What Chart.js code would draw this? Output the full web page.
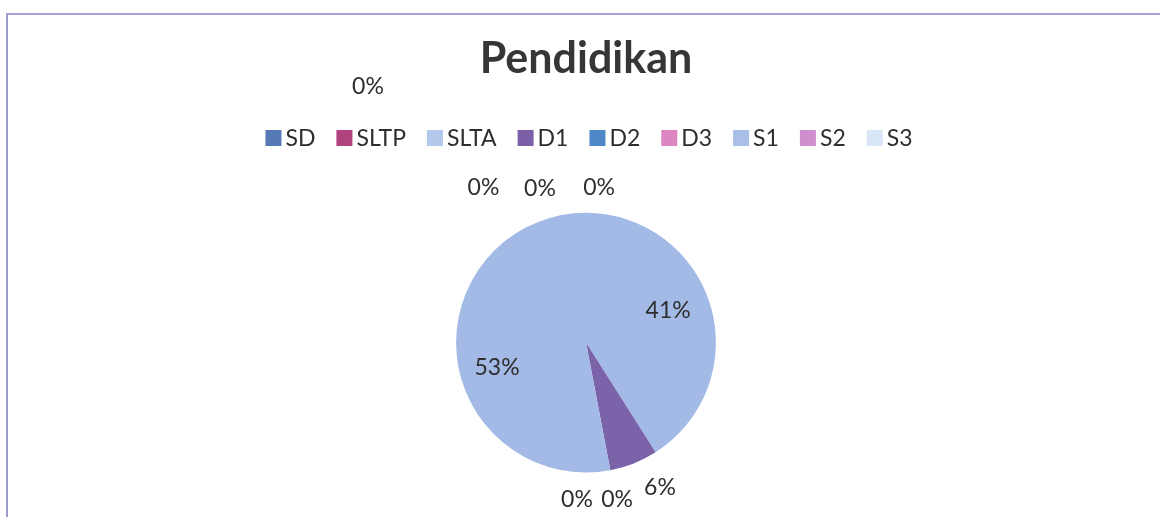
<!DOCTYPE html>
<html>
<head>
<meta charset="utf-8">
<script src="https://cdn.jsdelivr.net/npm/chart.js@4.4.1/dist/chart.umd.min.js"></script>
<style>
  html, body { margin: 0; padding: 0; background: #ffffff; }
  body { width: 1160px; height: 517px; position: relative; overflow: hidden; }
  #frame { position: absolute; left: 6px; top: 13px; width: 1200px; height: 600px;
           border-top: 2px solid #a3a3d6; border-left: 2px solid #9a9acc; box-sizing: border-box; }
  #wrap { position: absolute; left: 0; top: 0; width: 1160px; height: 517px; }
</style>
</head>
<body>
<div id="frame"></div>
<div id="wrap"><canvas id="c" width="1160" height="517"></canvas></div>
<script>
// ---- data ----
const chartTitle = "Pendidikan";
const categories = ["SD", "SLTP", "SLTA", "D1", "D2", "D3", "S1", "S2", "S3"];
const percentValues = [0, 0, 41, 6, 0, 0, 53, 0, 0];
const sliceColors = ["#5479b5", "#b0427d", "#a3bae6", "#7b63aa", "#4f88c6", "#dd86c2", "#a3bae6", "#cf8fcf", "#d8e6f8"];
const legendColors = ["#5479b5", "#b0427d", "#b3c8ea", "#7b60a8", "#4f88c6", "#dd86c2", "#a9bfe8", "#cf8fcf", "#d8e6f8"];

// label placement (angle in degrees clockwise from top, distance as a fraction of pie radius)
const labelPlacement = {
  SD:   [4.8, 1.20],
  SLTP: [319.6, 2.59],
  SLTA: [68.4, 0.68],
  D1:   [152.9, 1.25],
  D2:   [168.8, 1.23],
  D3:   [183.3, 1.21],
  S1:   [254.6, 0.71],
  S2:   [326.5, 1.43],
  S3:   [343.4, 1.24]
};

const FONT = "Lato, 'Open Sans', sans-serif";

const pieLabels = {
  id: 'pieLabels',
  afterDatasetsDraw(chart) {
    const ctx = chart.ctx;
    const meta = chart.getDatasetMeta(0);
    const data = chart.data.datasets[0].data;
    const total = data.reduce((a, b) => a + b, 0);
    ctx.save();
    ctx.font = "23px " + FONT;
    ctx.fillStyle = "#2e2e2e";
    ctx.textAlign = "center";
    ctx.textBaseline = "middle";
    meta.data.forEach((arc, i) => {
      const p = arc.getProps(['x', 'y', 'outerRadius'], true);
      const pl = labelPlacement[chart.data.labels[i]];
      const a = pl[0] * Math.PI / 180;
      const r = pl[1] * p.outerRadius;
      const tx = p.x + r * Math.sin(a);
      const ty = p.y - r * Math.cos(a);
      const pct = Math.round(data[i] / total * 100) + "%";
      ctx.fillText(pct, tx, ty);
    });
    ctx.restore();
  }
};

const customLegend = {
  id: 'customLegend',
  afterDraw(chart) {
    const ctx = chart.ctx;
    const box = 16, gap = 4, spacing = 21;
    ctx.save();
    ctx.font = "23px " + FONT;
    const widths = categories.map(t => ctx.measureText(t).width);
    let total = 0;
    widths.forEach((w, i) => { total += box + gap + w + (i < widths.length - 1 ? spacing : 0); });
    const cx = (chart.chartArea.left + chart.chartArea.right) / 2 + 3;
    let x = cx - total / 2;
    const y = 138;
    ctx.textBaseline = "middle";
    ctx.textAlign = "left";
    categories.forEach((t, i) => {
      ctx.fillStyle = legendColors[i];
      ctx.fillRect(x, y - box / 2, box, box);
      ctx.fillStyle = "#2e2e2e";
      ctx.fillText(t, x + box + gap, y + 1);
      x += box + gap + widths[i] + spacing;
    });
    ctx.restore();
  }
};

new Chart(document.getElementById('c'), {
  type: 'pie',
  data: {
    labels: categories,
    datasets: [{
      data: percentValues,
      backgroundColor: sliceColors,
      borderWidth: 0,
      hoverOffset: 0
    }]
  },
  options: {
    responsive: false,
    animation: false,
    events: [],
    layout: { padding: { top: 0, left: 12, right: 0, bottom: 44.5 } },
    plugins: {
      legend: { display: false },
      tooltip: { enabled: false },
      title: {
        display: true,
        text: chartTitle,
        color: "#363636",
        font: { family: FONT, size: 43, weight: 'bold', lineHeight: 1.2 },
        padding: { top: 33.5, bottom: 127.6 }
      }
    }
  },
  plugins: [pieLabels, customLegend]
});
</script>
</body>
</html>
